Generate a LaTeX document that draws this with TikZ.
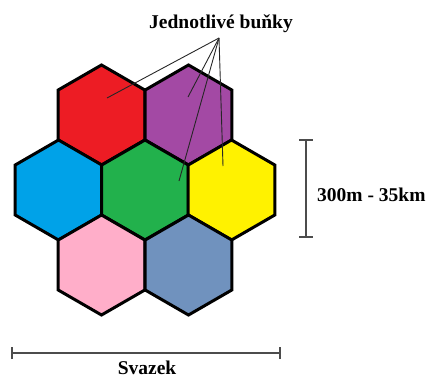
\documentclass[tikz,border=0pt]{standalone}
\usepackage{fontspec}
\setmainfont{Liberation Serif}
\begin{document}
\begin{tikzpicture}[x=1pt,y=-1pt,
  cell/.style={draw=black, line width=3pt},
  leader/.style={draw=black!85, line width=0.9pt},
  scalebar/.style={draw=black!70, line width=1.4pt},
  lbl/.style={font=\fontsize{19.5}{22}\selectfont\bfseries, inner sep=0pt}]
\useasboundingbox (0,0) rectangle (428,380);
\definecolor{cred}{HTML}{ED1C24}
\definecolor{cpurple}{HTML}{A349A4}
\definecolor{cblue}{HTML}{00A2E8}
\definecolor{cgreen}{HTML}{22B14C}
\definecolor{cyellow}{HTML}{FFF200}
\definecolor{cpink}{HTML}{FFAEC9}
\definecolor{csteel}{HTML}{7092BE}
% pointy-topped hexagonal cells (circumradius 50)
\foreach \cx/\cy/\col in {101.5/115/cred, 188.5/115/cpurple,
  58.5/190/cblue, 145/190/cgreen, 231.5/190/cyellow,
  101.5/265/cpink, 188.5/265/csteel}
  \path[cell, fill=\col] (\cx,\cy) +(90:50) -- +(150:50) -- +(210:50)
    -- +(270:50) -- +(330:50) -- +(30:50) -- cycle;
% label with leader lines into four cells
\node[lbl] (title) at (221,24) {Jednotlivé buňky};
\coordinate (src) at (219,38);
\coordinate (pRed) at (107,98);
\coordinate (pPurple) at (188,97);
\coordinate (pGreen) at (179,181);
\coordinate (pYellow) at (223,166);
\foreach \p in {pRed,pPurple,pGreen,pYellow}
  \draw[leader] (src) -- (\p);
% vertical scale: cell size
\coordinate (vTop) at (306,140);
\coordinate (vBot) at (306,237);
\draw[scalebar] (vTop) -- (vBot);
\draw[scalebar] ([xshift=-7pt]vTop) -- ([xshift=7pt]vTop);
\draw[scalebar] ([xshift=-7pt]vBot) -- ([xshift=7pt]vBot);
\node[lbl, anchor=west] (size) at (317,195) {300m - 35km};
% horizontal scale: cluster width
\coordinate (hL) at (12,353);
\coordinate (hR) at (280,353);
\draw[scalebar] (hL) -- (hR);
\draw[scalebar] ([yshift=-6pt]hL) -- ([yshift=6pt]hL);
\draw[scalebar] ([yshift=-6pt]hR) -- ([yshift=6pt]hR);
\node[lbl] (cluster) at (147,368) {Svazek};
\end{tikzpicture}
\end{document}
